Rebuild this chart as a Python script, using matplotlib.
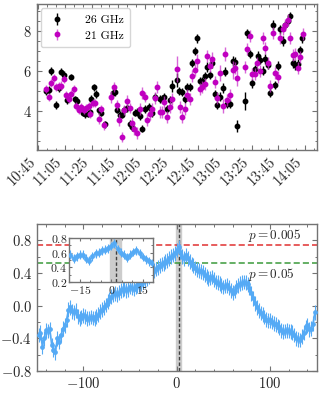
import matplotlib
matplotlib.use("Agg")
import matplotlib.pyplot as plt
from matplotlib.ticker import MultipleLocator, AutoMinorLocator, FixedLocator

plt.rcParams['font.family'] = 'serif'
plt.rcParams['font.serif'] = ['cmr10']
plt.rcParams['mathtext.fontset'] = 'cm'
plt.rcParams['axes.formatter.use_mathtext'] = True
plt.rcParams['axes.unicode_minus'] = True

# ---------------- top panel data (minutes after 10:45) ----------------
t26 = [6.0, 7.8, 9.5, 13.5, 15.5, 17.0, 19.0, 21.5, 24.8, 27.3, 29.0, 33.5, 35.3, 37.0,
       39.0, 39.8, 42.0, 43.5, 45.3, 47.3, 49.8, 56.0, 57.3, 59.0, 61.5, 63.0, 64.5, 66.5,
       68.6, 70.3, 72.3, 74.0, 76.1, 77.8, 79.8, 83.0, 85.3, 87.3, 91.1, 92.8, 94.3, 96.8,
       98.6, 100.3, 104.3, 105.5, 107.8, 109.8, 111.8, 113.6, 115.3, 117.3, 119.0, 121.1,
       122.8, 124.8, 126.8, 128.6, 130.3, 132.8, 134.3, 136.3, 138.3, 140.0, 141.8, 143.8,
       145.8, 147.5, 149.3, 155.0, 156.8, 158.8, 160.5, 162.5, 164.6, 166.3, 168.3, 170.0,
       172.1, 173.8, 175.8, 177.5, 179.6, 181.3, 183.3, 185.0, 187.1, 188.8, 190.8, 192.5,
       194.6, 196.3, 198.0]
f26 = [5.0, 5.05, 6.0, 4.3, 5.13, 5.97, 5.8, 4.55, 5.68, 4.58, 4.5, 3.92, 3.83, 3.87,
       3.95, 4.6, 5.18, 4.85, 4.05, 3.92, 3.35, 4.92, 4.95, 4.05, 3.8, 3.82, 4.05, 4.15,
       3.35, 3.2, 3.92, 3.95, 3.75, 3.13, 4.1, 4.18, 3.92, 4.68, 4.58, 4.62, 4.72, 4.08,
       4.55, 5.27, 5.55, 5.0, 4.97, 4.58, 5.22, 5.2, 6.42, 7.02, 7.63, 5.52,
       5.52, 5.75, 6.18, 5.8, 6.38, 4.83, 4.3, 4.72, 5.13, 5.97, 4.35, 4.35,
       6.5, 6.43, 3.25, 4.52, 7.88, 6.85, 5.38, 6.08, 6.75, 6.55, 6.02, 6.58,
       6.3, 4.92, 8.3, 5.3, 6.27, 8.08, 7.5, 8.3, 8.52, 8.75, 6.38, 6.3,
       6.33, 7.05, 7.67]
e26 = [0.18, 0.18, 0.18, 0.2, 0.2, 0.18, 0.18, 0.18, 0.15, 0.18, 0.18, 0.15, 0.15, 0.15,
       0.15, 0.18, 0.18, 0.18, 0.15, 0.15, 0.18, 0.18, 0.18, 0.15, 0.18, 0.18, 0.18, 0.18,
       0.2, 0.2, 0.18, 0.18, 0.18, 0.18, 0.18, 0.2, 0.2, 0.2, 0.2, 0.2, 0.18, 0.2,
       0.2, 0.3, 0.35, 0.2, 0.2, 0.2, 0.2, 0.2, 0.2, 0.2, 0.22, 0.2,
       0.2, 0.2, 0.25, 0.22, 0.22, 0.2, 0.22, 0.22, 0.25, 0.22, 0.22, 0.22,
       0.25, 0.25, 0.3, 0.45, 0.22, 0.22, 0.22, 0.22, 0.25, 0.22, 0.22, 0.25,
       0.22, 0.22, 0.25, 0.22, 0.22, 0.22, 0.25, 0.22, 0.22, 0.22, 0.25, 0.25,
       0.25, 0.22, 0.25]

t21 = [6.0, 7.8, 9.5, 11.6, 13.5, 15.5, 17.0, 19.0, 21.0, 22.8, 24.8, 26.6, 28.5, 30.3,
       32.3, 34.5, 36.0, 37.8, 39.0, 41.0, 42.8, 45.3, 47.3, 49.1, 54.5, 57.0, 59.0, 60.8,
       62.8, 64.5, 66.5, 68.6, 70.3, 72.0, 73.8, 76.1, 77.8, 79.8, 81.5, 83.6, 85.3, 87.3,
       89.0, 91.1, 92.8, 94.3, 96.8, 98.6, 100.3, 104.0, 106.1, 107.8, 109.8, 111.8, 113.6,
       115.5, 117.3, 119.3, 121.1, 122.8, 124.8, 126.8, 128.6, 130.5, 132.3, 134.3, 136.1,
       138.3, 140.0, 141.8, 143.8, 145.8, 147.5, 149.3, 155.0, 156.8, 158.8, 160.5, 162.5,
       164.3, 166.3, 168.3, 170.0, 172.1, 173.8, 175.8, 177.5, 179.6, 181.3, 183.3, 185.0,
       187.1, 188.8, 190.8, 192.5, 194.6, 196.3, 198.3]
f21 = [5.1, 4.7, 5.42, 5.65, 5.2, 5.25, 5.27, 5.6, 4.8, 4.6, 4.85, 5.08, 4.25, 4.05,
       4.2, 4.05, 4.15, 4.25, 3.85, 4.4, 4.4, 3.63, 4.1, 3.3, 4.72, 5.2, 4.3, 3.55,
       2.7, 4.05, 4.52, 4.13, 3.4, 3.1, 2.9, 4.08, 4.88, 4.68, 3.55, 3.85, 4.08, 4.63,
       5.22, 3.97, 3.97, 4.45, 3.72, 4.2, 4.6, 6.08, 4.18, 3.72, 4.08, 4.78, 4.6,
       5.75, 6.05, 6.52, 5.08, 5.2, 5.33, 6.75, 6.25, 6.58, 5.47, 4.63, 5.9,
       4.25, 6.83, 4.55, 4.8, 6.05, 6.13, 5.63, 6.22, 7.08, 7.75, 5.85, 5.85,
       6.38, 5.98, 7.63, 7.13, 6.38, 5.25, 7.88, 5.88, 5.68, 7.63, 8.08, 8.3,
       8.55, 7.63, 6.8, 6.85, 6.13, 6.68, 7.85]
e21 = [0.22, 0.2, 0.2, 0.2, 0.22, 0.22, 0.22, 0.2, 0.22, 0.2, 0.2, 0.2, 0.22, 0.22,
       0.22, 0.22, 0.22, 0.22, 0.2, 0.22, 0.22, 0.25, 0.22, 0.22, 0.3, 0.25, 0.25, 0.3,
       0.25, 0.25, 0.3, 0.25, 0.3, 0.3, 0.3, 0.3, 0.3, 0.25, 0.3, 0.3, 0.3, 0.3,
       0.3, 0.3, 0.3, 0.3, 0.3, 0.3, 0.3, 0.65, 0.3, 0.3, 0.3, 0.3, 0.3,
       0.3, 0.3, 0.35, 0.3, 0.3, 0.3, 0.3, 0.3, 0.35, 0.3, 0.3, 0.4,
       0.35, 0.35, 0.3, 0.3, 0.45, 0.3, 0.4, 0.3, 0.3, 0.3, 0.3, 0.3,
       0.3, 0.3, 0.3, 0.3, 0.3, 0.3, 0.3, 0.3, 0.3, 0.3, 0.3, 0.3,
       0.3, 0.3, 0.3, 0.3, 0.3, 0.3, 0.3]

time_ticks = [0, 20, 40, 60, 80, 100, 120, 140, 160, 180, 200]
time_labels = ['10:45', '11:05', '11:25', '11:45', '12:05', '12:25', '12:45',
               '13:05', '13:25', '13:45', '14:05']

# ---------------- bottom panel data (cross-correlation vs lag) ----------------
lags = list(range(-148, 149, 2))
r_main = [-0.36, -0.33, -0.50, -0.40, -0.30, -0.31, -0.29, -0.48, -0.54, -0.57,
          -0.40, -0.44, -0.36, -0.28, -0.24, -0.17, -0.05, -0.02, -0.07, -0.08,
          -0.06, -0.13, -0.16, -0.14, -0.12, -0.13, -0.16, -0.15, -0.14, -0.15,
          -0.16, -0.13, -0.11, -0.07, -0.05, -0.02, 0.01, 0.05, 0.08, 0.11,
          0.14, 0.15, 0.14, 0.16, 0.19, 0.20, 0.21, 0.19, 0.20, 0.23,
          0.22, 0.21, 0.23, 0.25, 0.26, 0.27, 0.29, 0.31, 0.33, 0.36,
          0.39, 0.41, 0.43, 0.45, 0.47, 0.49, 0.51, 0.52, 0.54, 0.55,
          0.58, 0.60, 0.62, 0.64, 0.68, 0.72, 0.66, 0.60, 0.58, 0.62,
          0.58, 0.54, 0.51, 0.49, 0.46, 0.44, 0.43, 0.42, 0.41, 0.38,
          0.36, 0.33, 0.34, 0.35, 0.32, 0.29, 0.28, 0.27, 0.25, 0.23,
          0.24, 0.25, 0.22, 0.19, 0.16, 0.18, 0.23, 0.25, 0.27, 0.28,
          0.29, 0.28, 0.26, 0.22, 0.15, 0.09, 0.03, -0.02, -0.06, -0.09,
          -0.11, -0.14, -0.17, -0.18, -0.18, -0.20, -0.22, -0.23, -0.25, -0.27,
          -0.30, -0.32, -0.31, -0.30, -0.31, -0.32, -0.33, -0.36, -0.40, -0.41,
          -0.42, -0.38, -0.33, -0.26, -0.24, -0.29, -0.28, -0.22, -0.08]
r_bar_err = 0.09
r_band_err = 0.05

inset_lags = [-19.5, -18, -16.5, -15, -13.5, -12, -10.5, -9, -7.5, -6, -4.5, -3, -1.5,
              0, 1.5, 3, 4.5, 6, 7.5, 9, 10.5, 12, 13.5, 15, 16.5, 18, 19.5]
inset_r = [0.57, 0.52, 0.55, 0.57, 0.57, 0.52, 0.49, 0.55, 0.59, 0.60, 0.63, 0.64, 0.66,
           0.69, 0.73, 0.65, 0.60, 0.57, 0.53, 0.57, 0.61, 0.63, 0.59, 0.54, 0.51, 0.48, 0.46]
inset_err = 0.04

p005 = 0.74
p05 = 0.52
peak_lag = 2.0
peak_lo, peak_hi = -0.5, 4.5

# ---------------- figure ----------------
fig = plt.figure(figsize=(3.23, 4.09), dpi=100)
spine_c = '0.45'

def style(ax, fs=10):
    ax.tick_params(which='both', direction='in', top=True, right=True,
                   colors=spine_c, labelcolor='0.15', labelsize=fs)
    ax.tick_params(which='major', length=3.5, width=0.8)
    ax.tick_params(which='minor', length=1.8, width=0.7)
    for s in ax.spines.values():
        s.set_color(spine_c)
        s.set_linewidth(1.0)

ax1 = fig.add_axes([0.1136, 0.633, 0.8669, 0.357])
h26 = ax1.errorbar(t26, f26, yerr=e26, fmt='o', color='k', ms=3.2, elinewidth=1.0,
                   capsize=0, label='26 GHz', zorder=2)
h21 = ax1.errorbar(t21, f21, yerr=e21, fmt='o', color='#c000c0', ms=3.2, elinewidth=1.0,
                   ecolor=(0.8, 0.2, 0.8, 0.75), capsize=0, label='21 GHz', zorder=3)
ax1.set_xlim(-1.2, 208.8)
ax1.set_ylim(2.05, 9.35)
ax1.xaxis.set_major_locator(FixedLocator(time_ticks))
ax1.set_xticklabels(time_labels, rotation=45, ha='right')
ax1.xaxis.set_minor_locator(AutoMinorLocator(3))
ax1.yaxis.set_major_locator(MultipleLocator(2))
ax1.yaxis.set_minor_locator(MultipleLocator(0.5))
style(ax1, 10.5)
leg = ax1.legend(handles=[h26, h21], loc='upper left', fontsize=8.5, frameon=True,
                 fancybox=True, edgecolor='0.8', borderpad=0.55, handletextpad=1.6,
                 handlelength=1.6, labelspacing=0.45, borderaxespad=0.35)

ax2 = fig.add_axes([0.1136, 0.0929, 0.8669, 0.3594])
ax2.axvspan(peak_lo, peak_hi, color='0.8', zorder=0)
ax2.axvline(peak_lag, color='0.25', ls=(0, (2.5, 1.5)), lw=1.0, zorder=1)
ax2.axhline(p005, color='#e03030', ls=(0, (4, 2)), lw=1.1, zorder=1)
ax2.axhline(p05, color='#3a9a3a', ls=(0, (4, 2)), lw=1.1, zorder=1)
lo = [v - r_band_err for v in r_main]
hi = [v + r_band_err for v in r_main]
ax2.fill_between(lags, lo, hi, color='#9fd0ff', lw=0, zorder=2)
ax2.errorbar(lags, r_main, yerr=r_bar_err, fmt='o-', color='#55aaf5', ms=2.4,
             lw=1.1, elinewidth=0.8, capsize=0, zorder=3)
ax2.text(76, p005 + 0.02, r'$p = 0.005$', fontsize=9.5, ha='left', va='bottom', color='0.15')
ax2.text(76, p05 - 0.03, r'$p = 0.05$', fontsize=9.5, ha='left', va='top', color='0.15')
ax2.set_xlim(-150, 150)
ax2.set_ylim(-0.8, 1.0)
ax2.xaxis.set_major_locator(MultipleLocator(100))
ax2.xaxis.set_minor_locator(MultipleLocator(20))
ax2.yaxis.set_major_locator(MultipleLocator(0.4))
ax2.yaxis.set_minor_locator(MultipleLocator(0.2))
style(ax2, 10.5)

axi = fig.add_axes([0.2146, 0.3105, 0.26, 0.1076])
axi.axvspan(peak_lo, peak_hi, color='0.8', zorder=0)
axi.axvline(peak_lag, color='0.25', ls=(0, (2.5, 1.5)), lw=1.0, zorder=1)
ilo = [v - inset_err for v in inset_r]
ihi = [v + inset_err for v in inset_r]
axi.fill_between(inset_lags, ilo, ihi, color='#9fd0ff', lw=0, zorder=2)
axi.errorbar(inset_lags, inset_r, yerr=inset_err + 0.02, fmt='o-', color='#55aaf5', ms=2.4,
             lw=1.1, elinewidth=0.8, capsize=0, zorder=3)
axi.set_xlim(-20, 20)
axi.set_ylim(0.2, 0.8)
axi.xaxis.set_major_locator(MultipleLocator(15))
axi.xaxis.set_minor_locator(MultipleLocator(5))
axi.yaxis.set_major_locator(MultipleLocator(0.2))
axi.yaxis.set_minor_locator(MultipleLocator(0.1))
style(axi, 8.5)
axi.tick_params(which='major', length=2.5, pad=1.5)
axi.tick_params(which='minor', length=1.2)

fig.savefig('out.png', dpi=100)
